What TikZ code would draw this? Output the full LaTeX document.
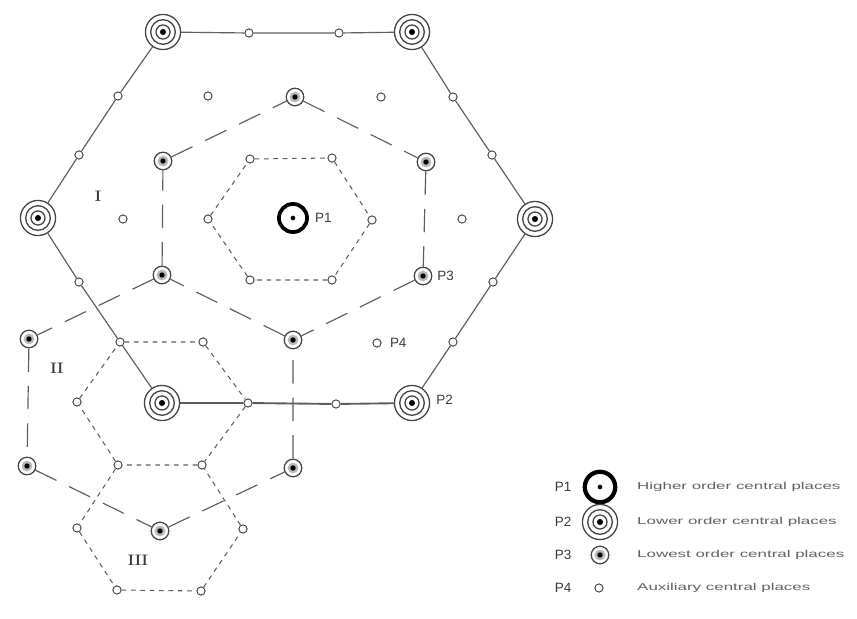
\documentclass[tikz,border=0pt]{standalone}
\usepackage{fontspec}
\setsansfont{Liberation Sans}
\usepackage{graphicx}
\usepackage{tikz}
\usetikzlibrary{positioning}
\definecolor{linegray}{HTML}{5E5E5E}
\definecolor{ringgray}{HTML}{444444}
\definecolor{textgray}{HTML}{3A3A3A}

\begin{document}
\begin{tikzpicture}[x=0.03cm,y=-0.03cm,
  aux/.style={circle,draw=ringgray,line width=0.8pt,fill=white,inner sep=0pt,minimum size=7pt},
  lowest/.style={circle,draw=ringgray,line width=1.1pt,fill=white,inner sep=0pt,minimum size=15pt,
    path picture={\fill[gray!55] (path picture bounding box.center) circle (4.6pt);
      \fill[black] (path picture bounding box.center) circle (2.3pt);}},
  lower/.style={circle,draw=ringgray,line width=1.1pt,fill=white,inner sep=0pt,minimum size=30pt,
    path picture={\draw[ringgray,line width=1.1pt] (path picture bounding box.center) circle (10.5pt) circle (6pt);
      \fill[black] (path picture bounding box.center) circle (2.6pt);}},
  higher/.style={circle,draw=black,line width=3.2pt,fill=white,inner sep=0pt,minimum size=24pt,
    path picture={\fill[black] (path picture bounding box.center) circle (2pt);}},
  road/.style={linegray,line width=1pt},
  longdash/.style={linegray,line width=1pt,dash pattern=on 20pt off 12pt},
  shortdash/.style={linegray,line width=0.9pt,dash pattern=on 4pt off 4pt},
  lbl/.style={font=\sffamily\fontsize{11.5}{13}\selectfont,text=textgray,inner sep=1pt},
  zone/.style={font=\rmfamily\bfseries\fontsize{13}{15}\selectfont,text=textgray},
  legtext/.style={font=\sffamily\fontsize{8.5}{10}\selectfont,text=textgray!80,anchor=west,inner sep=0pt}]
  \useasboundingbox (0,0) rectangle (857,619);

  % places
  \node[lower] (lowNW) at (163,32) {};
  \node[lower] (lowNE) at (412,32) {};
  \node[lower] (lowE) at (535,219) {};
  \node[lower] (lowSE) at (412,403) {};
  \node[lower] (lowSW) at (162,403) {};
  \node[lower] (lowW) at (38,218) {};
  \node[higher] (high) at (293,218) {};
  \node[lowest] (m1) at (295,97) {};
  \node[lowest] (m2) at (426,162) {};
  \node[lowest] (m3) at (423,276) {};
  \node[lowest] (m4) at (293,340) {};
  \node[lowest] (m5) at (162,275) {};
  \node[lowest] (m6) at (163,161) {};
  \node[lowest] (q1) at (29,339) {};
  \node[lowest] (q2) at (27,466) {};
  \node[lowest] (q3) at (160,531) {};
  \node[lowest] (q4) at (293,468) {};
  \node[aux] (n1) at (249,33) {};
  \node[aux] (n2) at (339,33) {};
  \node[aux] (ne1) at (453,97) {};
  \node[aux] (ne2) at (492,155) {};
  \node[aux] (se1) at (493,282) {};
  \node[aux] (se2) at (453,342) {};
  \node[aux] (s2) at (336,404) {};
  \node[aux] (s1) at (248,403) {};
  \node[aux] (sw1) at (120,342) {};
  \node[aux] (sw2) at (79,282) {};
  \node[aux] (nw1) at (79,155) {};
  \node[aux] (nw2) at (118,96) {};
  \node[aux] (in1) at (250,159) {};
  \node[aux] (in2) at (332,158) {};
  \node[aux] (in3) at (372,220) {};
  \node[aux] (in4) at (332,280) {};
  \node[aux] (in5) at (250,280) {};
  \node[aux] (in6) at (208,219) {};
  \node[aux] (h2) at (203,342) {};
  \node[aux] (h4) at (202,465) {};
  \node[aux] (h5) at (118,465) {};
  \node[aux] (h6) at (77,402) {};
  \node[aux] (t1) at (243,529) {};
  \node[aux] (t2) at (201,591) {};
  \node[aux] (t3) at (117,590) {};
  \node[aux] (t4) at (77,528) {};
  \node[aux] (f1) at (208,96) {};
  \node[aux] (f2) at (381,97) {};
  \node[aux] (f3) at (123,219) {};
  \node[aux] (f4) at (462,219) {};
  \node[aux] (f5) at (377,343) {};

  % market areas
  \draw[road] (lowNW) -- (n1) -- (n2) -- (lowNE) -- (ne1) -- (ne2) -- (lowE) -- (se1) -- (se2) -- (lowSE);
  \draw[road] (lowNW) -- (nw2) -- (nw1) -- (lowW) -- (sw2) -- (sw1) -- (lowSW);
  \draw[road,line width=1.6pt] (lowSW) -- (s1) -- (s2) -- (lowSE);
  \draw[longdash] (m1) -- (m2) -- (m3) -- (m4) -- (m5) -- (m6) -- (m1);
  \draw[longdash] (m5) -- (q1) -- (q2) -- (q3) -- (q4) -- (m4);
  \draw[shortdash] (in1) -- (in2) -- (in3) -- (in4) -- (in5) -- (in6) -- (in1);
  \draw[shortdash] (sw1) -- (h2) -- (s1) -- (h4) -- (h5) -- (h6) -- (sw1);
  \draw[shortdash] (h5) -- (t4) -- (t3) -- (t2) -- (t1) -- (h4);

  \node[lbl,right=4pt of high] (labP1) {P1};
  \node[lbl,right=3pt of m3] (labP3) {P3};
  \node[lbl,right=6pt of f5] (labP4) {P4};
  \node[lbl,right=4pt of lowSE,yshift=3pt] (labP2) {P2};
  \node[zone] (zoneI) at (98,196) {I};
  \node[zone] (zoneII) at (57,368) {II};
  \node[zone] (zoneIII) at (138,560) {III};

  % legend
  \node[higher,minimum size=26pt,line width=3.6pt] (legP1) at (600,487) {};
  \node[lower] (legP2) at (600,522) {};
  \node[lowest] (legP3) at (600,555) {};
  \node[aux] (legP4) at (599,588) {};
  \node[lbl] at (563,487) {P1};
  \node[lbl] at (563,522) {P2};
  \node[lbl] at (563,555) {P3};
  \node[lbl] at (563,588) {P4};
  \node[legtext] at (637,487) {\scalebox{1.7}[1]{Higher order central places}};
  \node[legtext] at (637,522) {\scalebox{1.7}[1]{Lower order central places}};
  \node[legtext] at (637,555) {\scalebox{1.7}[1]{Lowest order central places}};
  \node[legtext] at (637,588) {\scalebox{1.7}[1]{Auxiliary central places}};
\end{tikzpicture}
\end{document}
